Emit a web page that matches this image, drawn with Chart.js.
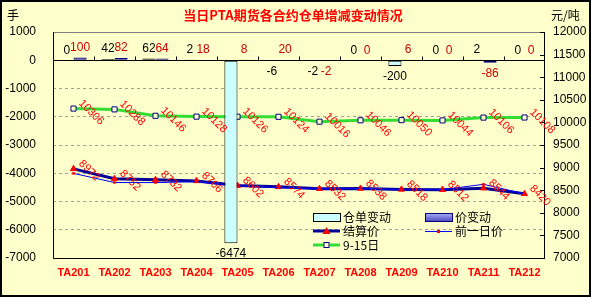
<!DOCTYPE html>
<html>
<head>
<meta charset="utf-8">
<script src="https://cdn.jsdelivr.net/npm/chart.js@4.4.0/dist/chart.umd.min.js"></script>
<style>
html, body { margin: 0; padding: 0; background: #ffffcc; }
</style>
</head>
<body>
<canvas id="c" width="591" height="297"></canvas>
<script>
// contracts on the x axis
const contracts = ['TA201', 'TA202', 'TA203', 'TA204', 'TA205', 'TA206', 'TA207', 'TA208', 'TA209', 'TA210', 'TA211', 'TA212'];
// left axis (手)
const receiptChange = [0, 42, 62, 2, -6474, -6, -2, 0, -200, 0, 2, 0];
const priceChange = [100, 82, 64, 18, 8, 20, -2, 0, 6, 0, -86, 0];
// right axis (元/吨)
const settlePrice = [8972, 8752, 8732, 8706, 8602, 8574, 8532, 8538, 8518, 8512, 8544, 8420];
const prevPrice = [8872, 8670, 8668, 8688, 8594, 8554, 8534, 8538, 8512, 8512, 8630, 8420];
const price0915 = [10306, 10288, 10146, 10128, 10126, 10124, 10016, 10046, 10050, 10044, 10106, 10108];

const titleText = '当日PTA期货各合约仓单增减变动情况';
const leftUnit = '手';
const rightUnit = '元/吨';
const seriesNames = ['仓单变动', '价变动', '9-15日', '结算价', '前一日价'];

const bg = '#ffffcc';
const red = '#ff0000';
const navy = '#000080';
const cjk = '"Noto Sans CJK SC", sans-serif';
const latin = '"Liberation Sans", Arial, sans-serif';

function rotatedLabels(ctx, meta, values) {
    ctx.save();
    ctx.fillStyle = red;
    ctx.font = '11px ' + latin;
    ctx.textAlign = 'left';
    ctx.textBaseline = 'middle';
    for (let i = 0; i < values.length; i++) {
        const p = meta.data[i];
        ctx.save();
        ctx.translate(p.x + 7, p.y - 7);
        ctx.rotate(Math.PI / 4);
        ctx.fillText(String(values[i]), 0, 0);
        ctx.restore();
    }
    ctx.restore();
}

function barLabels(ctx, meta, values, color) {
    ctx.save();
    ctx.fillStyle = color;
    ctx.font = '12px ' + latin;
    ctx.textAlign = 'center';
    ctx.textBaseline = 'middle';
    for (let i = 0; i < values.length; i++) {
        const b = meta.data[i];
        const top = Math.min(b.y, b.base), bottom = Math.max(b.y, b.base);
        const y = values[i] >= 0 ? top - 10 : bottom + 11;
        ctx.fillText(String(values[i]), b.x, y);
    }
    ctx.restore();
}

function drawLegend(ctx) {
    const c1 = 313, c2 = 425, sw = 27;
    const rows = [217, 231, 245];
    ctx.save();
    ctx.font = '12px ' + cjk;
    ctx.textBaseline = 'middle';
    ctx.textAlign = 'left';
    // 仓单变动
    ctx.fillStyle = '#ccffff';
    ctx.fillRect(c1, rows[0] - 4, sw, 8);
    ctx.strokeStyle = '#000';
    ctx.lineWidth = 1;
    ctx.strokeRect(c1 + 0.5, rows[0] - 3.5, sw, 8);
    // 价变动
    const g = ctx.createLinearGradient(0, rows[0] - 4, 0, rows[0] + 4);
    g.addColorStop(0, '#b0b0ff');
    g.addColorStop(1, '#5050c0');
    ctx.fillStyle = g;
    ctx.fillRect(c2, rows[0] - 4, sw, 8);
    ctx.strokeStyle = navy;
    ctx.strokeRect(c2 + 0.5, rows[0] - 3.5, sw, 8);
    // 结算价
    ctx.strokeStyle = '#000099';
    ctx.lineWidth = 3;
    ctx.beginPath(); ctx.moveTo(c1, rows[1]); ctx.lineTo(c1 + sw, rows[1]); ctx.stroke();
    ctx.fillStyle = red;
    ctx.beginPath();
    ctx.moveTo(c1 + sw / 2, rows[1] - 4); ctx.lineTo(c1 + sw / 2 + 4, rows[1] + 3); ctx.lineTo(c1 + sw / 2 - 4, rows[1] + 3);
    ctx.closePath(); ctx.fill();
    // 前一日价
    ctx.strokeStyle = '#0000ff';
    ctx.lineWidth = 1;
    ctx.beginPath(); ctx.moveTo(c2, rows[1] + 0.5); ctx.lineTo(c2 + sw, rows[1] + 0.5); ctx.stroke();
    ctx.fillStyle = red;
    ctx.fillRect(c2 + sw / 2 - 1.5, rows[1] - 1, 3, 3);
    // 9-15日
    ctx.strokeStyle = '#33dd33';
    ctx.lineWidth = 3;
    ctx.beginPath(); ctx.moveTo(c1, rows[2]); ctx.lineTo(c1 + sw, rows[2]); ctx.stroke();
    ctx.fillStyle = bg;
    ctx.fillRect(c1 + sw / 2 - 3, rows[2] - 3, 6, 6);
    ctx.strokeStyle = navy;
    ctx.lineWidth = 1;
    ctx.strokeRect(c1 + sw / 2 - 2.5, rows[2] - 2.5, 5, 5);
    // texts
    ctx.fillStyle = '#000';
    ctx.fillText(seriesNames[0], c1 + sw + 3, rows[0]);
    ctx.fillText(seriesNames[1], c2 + sw + 3, rows[0]);
    ctx.fillText(seriesNames[3], c1 + sw + 3, rows[1]);
    ctx.fillText(seriesNames[4], c2 + sw + 3, rows[1]);
    ctx.fillText(seriesNames[2], c1 + sw + 3, rows[2]);
    ctx.restore();
}

const decor = {
    id: 'decor',
    beforeDraw(chart) {
        const ctx = chart.ctx;
        ctx.save();
        ctx.fillStyle = bg;
        ctx.fillRect(0, 0, chart.width, chart.height);
        ctx.restore();
    },
    afterDatasetsDraw(chart) {
        const ctx = chart.ctx;
        const a = chart.chartArea;
        const y0 = Math.round(chart.scales.y.getPixelForValue(0)) + 0.5;
        ctx.save();
        // plot box
        ctx.lineWidth = 1;
        ctx.strokeStyle = '#808080';
        ctx.beginPath(); ctx.moveTo(a.left, a.top + 0.5); ctx.lineTo(a.right, a.top + 0.5); ctx.stroke();
        ctx.strokeStyle = '#000';
        ctx.beginPath();
        ctx.moveTo(a.left + 0.5, a.top); ctx.lineTo(a.left + 0.5, a.bottom + 0.5);
        ctx.lineTo(a.right - 0.5, a.bottom + 0.5); ctx.lineTo(a.right - 0.5, a.top);
        ctx.stroke();
        // zero axis with tick marks
        ctx.beginPath(); ctx.moveTo(a.left, y0); ctx.lineTo(a.right, y0); ctx.stroke();
        const step = (a.right - a.left) / contracts.length;
        ctx.beginPath();
        for (let k = 1; k < contracts.length; k++) {
            const x = Math.round(a.left + k * step) + 0.5;
            ctx.moveTo(x, y0 - 4); ctx.lineTo(x, y0);
        }
        ctx.stroke();
        // right axis tick marks
        const r = chart.scales.y1;
        ctx.beginPath();
        r.ticks.forEach(t => {
            const y = Math.round(r.getPixelForValue(t.value)) + 0.5;
            ctx.moveTo(a.right - 5, y); ctx.lineTo(a.right, y);
        });
        ctx.stroke();
        ctx.restore();

        barLabels(ctx, chart.getDatasetMeta(0), receiptChange, '#000');
        barLabels(ctx, chart.getDatasetMeta(1), priceChange, '#cc0000');
        rotatedLabels(ctx, chart.getDatasetMeta(2), price0915);
        rotatedLabels(ctx, chart.getDatasetMeta(3), settlePrice);
        drawLegend(ctx);

        // title and units
        ctx.save();
        ctx.textBaseline = 'middle';
        ctx.fillStyle = red;
        ctx.font = 'bold 13px ' + cjk;
        ctx.textAlign = 'center';
        ctx.fillText(titleText, 293, 15);
        ctx.fillStyle = '#000';
        ctx.font = '12px ' + cjk;
        ctx.textAlign = 'left';
        ctx.fillText(leftUnit, 7, 15);
        ctx.fillText(rightUnit, 551, 15);
        // outer frame
        ctx.strokeStyle = '#000';
        ctx.lineWidth = 2;
        ctx.strokeRect(1, 1, chart.width - 2, chart.height - 2);
        ctx.restore();
    }
};

new Chart(document.getElementById('c'), {
    type: 'bar',
    data: {
        labels: contracts,
        datasets: [
            {
                label: seriesNames[0], data: receiptChange, yAxisID: 'y', order: 0,
                backgroundColor: '#ccffff', borderColor: '#000', borderWidth: 1, borderSkipped: false,
                categoryPercentage: 0.64, barPercentage: 1.0
            },
            {
                label: seriesNames[1], data: priceChange, yAxisID: 'y', order: 0,
                backgroundColor: '#8c8ce6', borderColor: navy, borderWidth: 1, borderSkipped: false,
                categoryPercentage: 0.64, barPercentage: 1.0
            },
            {
                type: 'line', label: seriesNames[2], data: price0915, yAxisID: 'y1', order: 3,
                borderColor: '#33dd33', borderWidth: 3, tension: 0,
                pointStyle: 'rect', pointRadius: 3.6, pointBorderWidth: 1,
                pointBorderColor: navy, pointBackgroundColor: bg
            },
            {
                type: 'line', label: seriesNames[3], data: settlePrice, yAxisID: 'y1', order: 2,
                borderColor: '#000099', borderWidth: 3, tension: 0,
                pointStyle: 'triangle', pointRadius: 3.5, pointBorderWidth: 1,
                pointBorderColor: red, pointBackgroundColor: red
            },
            {
                type: 'line', label: seriesNames[4], data: prevPrice, yAxisID: 'y1', order: 1,
                borderColor: '#0000ff', borderWidth: 1, tension: 0,
                pointStyle: 'rect', pointRadius: 1.8, pointBorderWidth: 0,
                pointBackgroundColor: red
            }
        ]
    },
    options: {
        responsive: false,
        animation: false,
        devicePixelRatio: 1,
        layout: { padding: { top: 32, left: 0, right: 0, bottom: 0 } },
        plugins: {
            legend: { display: false },
            tooltip: { enabled: false },
            title: { display: false }
        },
        scales: {
            x: {
                offset: true,
                grid: { display: false, drawTicks: false },
                border: { display: false },
                ticks: { color: red, font: { family: latin, size: 11, weight: 'bold' }, padding: 8, maxRotation: 0, autoSkip: false },
                afterFit: s => { s.height = 39; }
            },
            y: {
                position: 'left',
                min: -7000, max: 1000,
                ticks: { stepSize: 1000, color: '#000', font: { family: latin, size: 12 }, padding: 17, callback: v => String(v) },
                grid: { color: '#a0a0a0', drawTicks: false },
                border: { display: false, dash: [3, 3] },
                afterFit: s => { s.width = 53; }
            },
            y1: {
                position: 'right',
                min: 7000, max: 12000,
                ticks: { stepSize: 500, color: '#000', font: { family: latin, size: 12 }, padding: 8, callback: v => String(v) },
                grid: { display: false, drawTicks: false },
                border: { display: false },
                afterFit: s => { s.width = 46; }
            }
        }
    },
    plugins: [decor]
});
</script>
</body>
</html>
